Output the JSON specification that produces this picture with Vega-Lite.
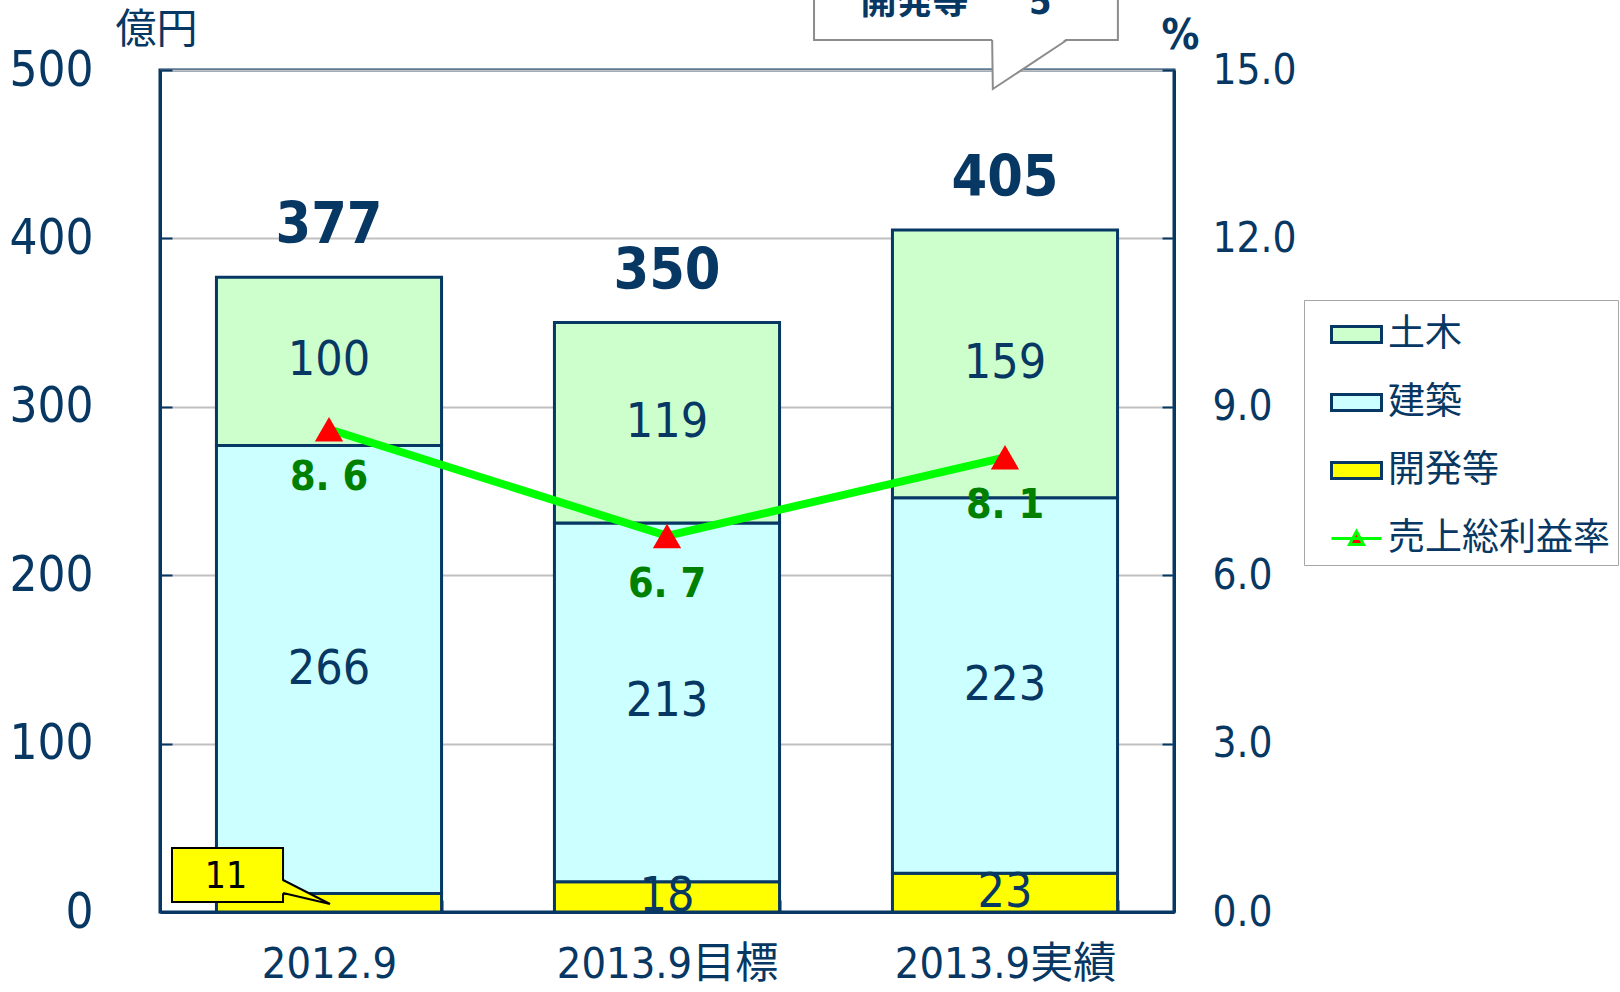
{
  "$schema": "https://vega.github.io/schema/vega-lite/v6.json",
  "width": 1014,
  "height": 842,
  "autosize": {"type": "none"},
  "padding": {"left": 160, "top": 70, "right": 446, "bottom": 80},
  "background": "white",
  "config": {
    "font": "Liberation Sans Narrow, DejaVu Sans Condensed, Noto Sans CJK JP, sans-serif",
    "view": {"stroke": "#073763", "strokeWidth": 3},
    "axis": {
      "labelColor": "#073763",
      "titleColor": "#073763",
      "domainColor": "#073763",
      "domainWidth": 3,
      "tickColor": "#073763",
      "tickWidth": 2,
      "labelLimit": 0
    },
    "axisX": {
      "tickBand": "extent",
      "tickSize": -12,
      "labelFontSize": 43,
      "labelPadding": 43,
      "labelAngle": 0,
      "grid": false
    }
  },
  "layer": [
    {
      "layer": [
        {
          "data": {
            "values": [
              {"cat": "2012.9", "type": "開発等", "value": 11},
              {"cat": "2012.9", "type": "建築", "value": 266},
              {"cat": "2012.9", "type": "土木", "value": 100},
              {"cat": "2013.9目標", "type": "開発等", "value": 18},
              {"cat": "2013.9目標", "type": "建築", "value": 213},
              {"cat": "2013.9目標", "type": "土木", "value": 119},
              {"cat": "2013.9実績", "type": "開発等", "value": 23},
              {"cat": "2013.9実績", "type": "建築", "value": 223},
              {"cat": "2013.9実績", "type": "土木", "value": 159}
            ]
          },
          "layer": [
            {
              "mark": {"type": "bar", "stroke": "#073763", "strokeWidth": 3},
              "encoding": {
                "x": {"field": "cat", "type": "nominal", "sort": null, "title": null,
                      "scale": {"paddingInner": 0.334, "paddingOuter": 0.167}},
                "y": {"field": "value", "type": "quantitative", "stack": "zero",
                      "scale": {"domain": [0, 500], "nice": false},
                      "axis": {"orient": "left", "values": [0, 100, 200, 300, 400, 500],
                               "grid": true, "gridColor": "#c0c0c0", "gridWidth": 2,
                               "labelFontSize": 49, "labelPadding": 79, "tickSize": -12,
                               "title": "億円", "titleAngle": 0, "titleFontSize": 41,
                               "titleFontWeight": "normal", "titleX": -4, "titleY": -40,
                               "titleAlign": "center", "titleBaseline": "middle"}},
                "color": {"field": "type", "type": "nominal",
                          "scale": {"domain": ["土木", "建築", "開発等", "売上総利益率"],
                                    "range": ["#ccffcc", "#ccffff", "#ffff00", "#ff0000"]},
                          "legend": {
                            "orient": "none", "legendX": 1144, "legendY": 230, "title": null,
                            "symbolSize": 2500, "symbolOffset": 18,
                            "symbolType": {"expr": "datum.value === '売上総利益率' ? 'M-1,0H1M-0.28,0.24L0,-0.28L0.28,0.24Z' : 'M-1,-0.32H1V0.32H-1Z'"},
                            "symbolStrokeWidth": 3,
                            "symbolOpacity": 1,
                            "labelFontSize": 37, "labelFont": "Noto Sans CJK JP", "labelLimit": 0,
                            "labelColor": "#073763", "strokeColor": "#a6a6a6",
                            "fillColor": "white", "padding": 8, "rowPadding": 23,
                            "labelOffset": 5
                          }},
                "order": {"field": "type", "sort": "descending"}
              }
            },
            {
              "transform": [
                {"stack": "value", "groupby": ["cat"], "sort": [{"field": "type", "order": "descending"}], "as": ["v0", "v1"]},
                {"fold": ["v0", "v1"], "as": ["edge", "pos"]},
                {"aggregate": [{"op": "mean", "field": "pos", "as": "mid"}], "groupby": ["cat", "type", "value"]},
                {"filter": "!(datum.cat === '2012.9' && datum.type === '開発等')"}
              ],
              "mark": {"type": "text", "color": "#073763", "baseline": "middle", "align": "center"},
              "encoding": {
                "x": {"field": "cat", "type": "nominal", "sort": null, "title": null},
                "y": {"field": "mid", "type": "quantitative"},
                "text": {"field": "value", "type": "quantitative"},
                "size": {"field": "type", "type": "nominal", "legend": null,
                         "scale": {"domain": ["土木", "建築", "開発等"], "range": [48, 48, 37]}}
              }
            },
            {
              "mark": {"type": "text", "color": "#073763", "fontWeight": "bold", "fontSize": 57,
                       "baseline": "alphabetic", "align": "center", "dy": -34},
              "encoding": {
                "x": {"field": "cat", "type": "nominal", "sort": null, "title": null},
                "y": {"aggregate": "sum", "field": "value", "type": "quantitative"},
                "text": {"aggregate": "sum", "field": "value", "type": "quantitative"}
              }
            }
          ]
        },
        {
          "data": {
            "values": [
              {"cat": "2012.9", "rate": 8.6, "label": "8. 6"},
              {"cat": "2013.9目標", "rate": 6.7, "label": "6. 7"},
              {"cat": "2013.9実績", "rate": 8.1, "label": "8. 1"}
            ]
          },
          "encoding": {
            "x": {"field": "cat", "type": "nominal", "sort": null, "title": null},
            "y": {"field": "rate", "type": "quantitative",
                  "scale": {"domain": [0, 15], "nice": false},
                  "axis": {"orient": "right", "values": [0, 3, 6, 9, 12, 15], "format": ".1f",
                           "labelFontSize": 42, "labelPadding": 50, "tickSize": -12, "grid": false,
                           "title": "%", "titleAngle": 0, "titleX": 6, "titleY": -35,
                           "titleFontSize": 42, "titleFontWeight": "bold",
                           "titleAlign": "center", "titleBaseline": "middle"}}
          },
          "layer": [
            {
              "mark": {"type": "line", "strokeWidth": 8},
              "encoding": {"stroke": {"datum": "売上総利益率",
                "scale": {"domain": ["土木", "建築", "開発等", "売上総利益率"],
                          "range": ["#073763", "#073763", "#073763", "#00ff00"]},
                "legend": {
                  "orient": "none", "legendX": 1144, "legendY": 230, "title": null,
                  "symbolSize": 2500, "symbolOffset": 18,
                  "symbolType": {"expr": "datum.value === '売上総利益率' ? 'M-1,0H1M-0.28,0.24L0,-0.28L0.28,0.24Z' : 'M-1,-0.32H1V0.32H-1Z'"},
                  "symbolStrokeWidth": 3,
                  "symbolOpacity": 1,
                  "labelFontSize": 37, "labelFont": "Noto Sans CJK JP", "labelLimit": 0,
                  "labelColor": "#073763", "strokeColor": "#a6a6a6",
                  "fillColor": "white", "padding": 8, "rowPadding": 23,
                  "labelOffset": 5
                }}}
            },
            {
              "mark": {"type": "point", "shape": "triangle-up", "filled": true, "color": "#ff0000", "size": 800, "opacity": 1}
            },
            {
              "mark": {"type": "text", "color": "#008000", "fontWeight": "bold", "fontSize": 41,
                       "baseline": "middle", "align": "center", "dy": 49},
              "encoding": {"text": {"field": "label"}}
            }
          ]
        }
      ],
      "resolve": {"scale": {"y": "independent"}}
    },
    {
      "layer": [
        {
          "data": {"values": [{"x1": 0.0355, "x2": 0.364, "y1": 5.9, "y2": 38.0}]},
          "mark": {"type": "rect", "fill": "#ffff00", "stroke": "#000000", "strokeWidth": 2},
          "encoding": {
            "x": {"field": "x1", "type": "quantitative", "scale": {"domain": [0, 3], "nice": false, "zero": false}, "axis": null},
            "x2": {"field": "x2"},
            "y": {"field": "y1", "type": "quantitative", "scale": {"domain": [0, 500], "nice": false}, "axis": null},
            "y2": {"field": "y2"}
          }
        },
        {
          "data": {"values": [{"px": 0.358, "py": 19.0, "py2": 11.3}, {"px": 0.503, "py": 4.75, "py2": 4.75}]},
          "mark": {"type": "area", "fill": "#ffff00", "opacity": 1},
          "encoding": {
            "x": {"field": "px", "type": "quantitative"},
            "y": {"field": "py", "type": "quantitative"},
            "y2": {"field": "py2"}
          }
        },
        {
          "data": {"values": [{"px": 0.364, "py": 19.0, "o": 1}, {"px": 0.503, "py": 4.75, "o": 2}, {"px": 0.364, "py": 11.3, "o": 3}]},
          "mark": {"type": "line", "color": "#000000", "strokeWidth": 2},
          "encoding": {
            "x": {"field": "px", "type": "quantitative"},
            "y": {"field": "py", "type": "quantitative"},
            "order": {"field": "o"}
          }
        },
        {
          "data": {"values": [{"tx": 0.195, "ty": 20.5, "t": "11"}]},
          "mark": {"type": "text", "color": "#000000", "fontSize": 37, "baseline": "middle", "align": "center"},
          "encoding": {
            "x": {"field": "tx", "type": "quantitative"},
            "y": {"field": "ty", "type": "quantitative"},
            "text": {"field": "t"}
          }
        },
        {
          "data": {"values": [{"x1": 1.935, "x2": 2.834, "y1": 517.8, "y2": 600}]},
          "mark": {"type": "rect", "fill": "#ffffff", "stroke": "#8c8c8c", "strokeWidth": 2},
          "encoding": {
            "x": {"field": "x1", "type": "quantitative"},
            "x2": {"field": "x2"},
            "y": {"field": "y1", "type": "quantitative"},
            "y2": {"field": "y2"}
          }
        },
        {
          "data": {"values": [{"py": 518.8, "px": 2.462, "px2": 2.683}, {"py": 488.7, "px": 2.464, "px2": 2.464}]},
          "mark": {"type": "area", "orient": "horizontal", "fill": "#ffffff", "opacity": 1},
          "encoding": {
            "y": {"field": "py", "type": "quantitative"},
            "x": {"field": "px", "type": "quantitative"},
            "x2": {"field": "px2"}
          }
        },
        {
          "data": {"values": [{"px": 2.462, "py": 517.8, "o": 1}, {"px": 2.464, "py": 488.7, "o": 2}, {"px": 2.683, "py": 517.8, "o": 3}]},
          "mark": {"type": "line", "color": "#8c8c8c", "strokeWidth": 2},
          "encoding": {
            "x": {"field": "px", "type": "quantitative"},
            "y": {"field": "py", "type": "quantitative"},
            "order": {"field": "o"}
          }
        },
        {
          "data": {"values": [{"tx": 2.232, "ty": 533.5, "t": "開発等"}, {"tx": 2.604, "ty": 533.5, "t": "5"}]},
          "mark": {"type": "text", "color": "#073763", "fontSize": 36, "fontWeight": "bold", "baseline": "alphabetic", "align": "center"},
          "encoding": {
            "x": {"field": "tx", "type": "quantitative"},
            "y": {"field": "ty", "type": "quantitative"},
            "text": {"field": "t"}
          }
        }
      ]
    }
  ],
  "resolve": {"scale": {"x": "independent", "y": "independent"}}
}
